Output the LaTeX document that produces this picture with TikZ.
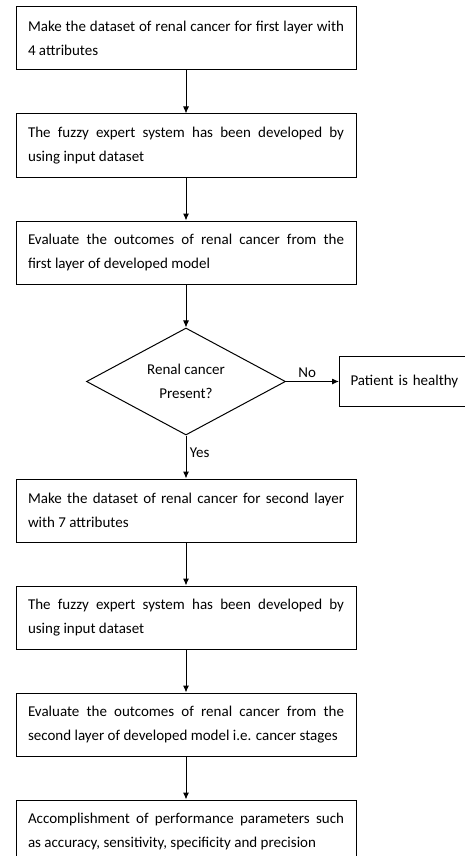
\documentclass[tikz,border=0pt]{standalone}
\usepackage{fontspec}
\setmainfont{Carlito}
\usetikzlibrary{positioning, shapes.geometric, arrows.meta}

\begin{document}
\begin{tikzpicture}[
    x=1pt, y=1pt,
    node distance=43pt,
    every node/.style={font=\fontsize{15}{24}\selectfont},
    stepbox/.style={draw, line width=1pt, text width=316pt, inner xsep=12pt,
        inner ysep=4pt, minimum height=63pt, align=justify},
    decision/.style={draw, line width=1pt, diamond, aspect=2, minimum width=199pt,
        minimum height=107pt, inner sep=0pt, align=center},
    endbox/.style={draw, line width=1pt, text width=113pt, inner xsep=11pt,
        minimum height=50pt, align=left},
    flow/.style={-{Latex[length=7pt,width=6pt]}, line width=1pt},
    ]
    \useasboundingbox (0,0) rectangle (464,-856);

    \node[stepbox] (make1) at (186,-38.5)
        {Make the dataset of renal cancer for first layer with\linebreak 4 attributes};
    \node[stepbox, below=of make1] (fuzzy1)
        {The fuzzy expert system has been developed by\linebreak using input dataset};
    \node[stepbox, below=of fuzzy1] (eval1)
        {Evaluate the outcomes of renal cancer from the\linebreak first layer of developed model};
    \node[decision, below=of eval1] (present) {Renal cancer\\Present?};
    \node[endbox, right=53pt of present] (healthy) {Patient is healthy};
    \node[stepbox, below=of present] (make2)
        {Make the dataset of renal cancer for second layer\linebreak with 7 attributes};
    \node[stepbox, below=of make2] (fuzzy2)
        {The fuzzy expert system has been developed by\linebreak using input dataset};
    \node[stepbox, below=of fuzzy2] (eval2)
        {Evaluate the outcomes of renal cancer from the\linebreak second layer of developed model i.e. cancer stages};
    \node[stepbox, below=of eval2] (perf)
        {Accomplishment of performance parameters such\linebreak as accuracy, sensitivity, specificity and precision};

    \draw[flow] (make1) -- (fuzzy1);
    \draw[flow] (fuzzy1) -- (eval1);
    \draw[flow] (eval1) -- (present);
    \draw[flow] (present) -- node[above, pos=0.4] {No} (healthy);
    \draw[flow] (present) -- node[right, pos=0.4] {Yes} (make2);
    \draw[flow] (make2) -- (fuzzy2);
    \draw[flow] (fuzzy2) -- (eval2);
    \draw[flow] (eval2) -- (perf);
\end{tikzpicture}
\end{document}
